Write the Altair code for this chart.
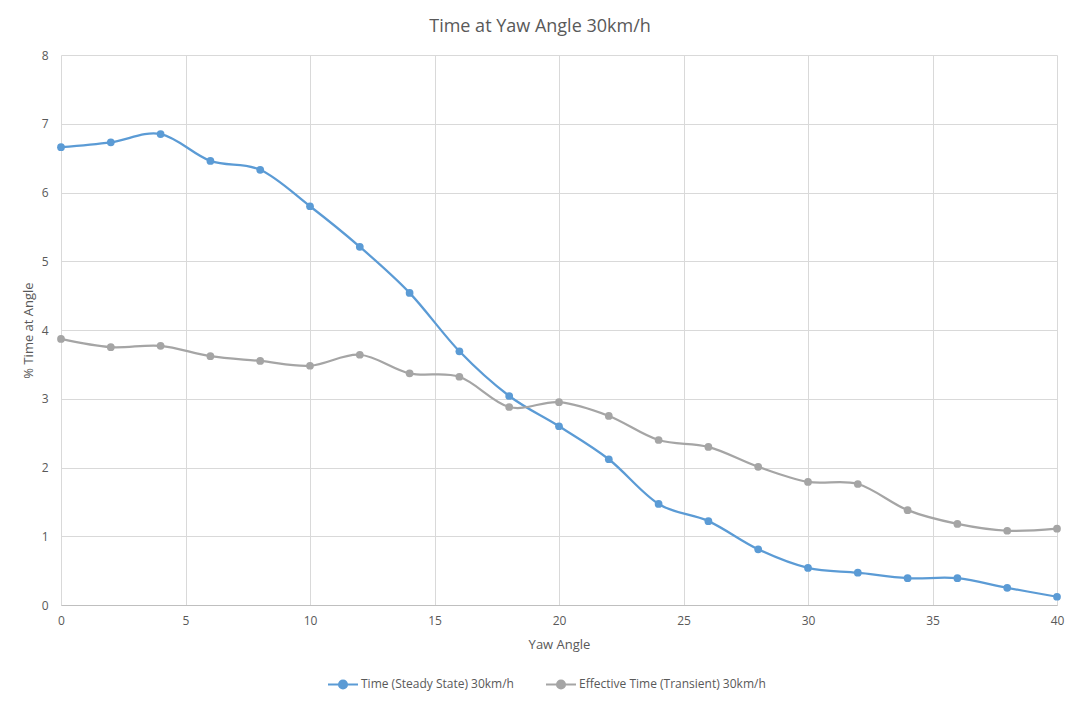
import altair as alt
import pandas as pd

yaw = [0, 2, 4, 6, 8, 10, 12, 14, 16, 18, 20, 22, 24, 26, 28, 30, 32, 34, 36, 38, 40]
steady = [6.66, 6.73, 6.85, 6.46, 6.33, 5.80, 5.21, 4.54, 3.69, 3.04, 2.60, 2.12,
          1.47, 1.22, 0.81, 0.54, 0.47, 0.39, 0.39, 0.25, 0.12]
transient = [3.87, 3.75, 3.77, 3.62, 3.55, 3.48, 3.64, 3.37, 3.32, 2.88, 2.95, 2.75,
             2.40, 2.30, 2.01, 1.79, 1.76, 1.38, 1.18, 1.08, 1.11]
series_names = ["Time (Steady State) 30km/h", "Effective Time (Transient) 30km/h"]
colors = ["#5B9BD5", "#A5A5A5"]

rows = []
for name, vals in zip(series_names, [steady, transient]):
    for a, v in zip(yaw, vals):
        rows.append({"Yaw Angle": a, "value": v, "series": name})
df = pd.DataFrame(rows)

FONT = "Open Sans"
TXT = "#595959"

color = alt.Color(
    "series:N",
    scale=alt.Scale(domain=series_names, range=colors),
    legend=alt.Legend(
        title=None,
        orient="none",
        legendX=266,
        legendY=613,
        direction="horizontal",
        symbolType="M-1,0L1,0M-0.27,0A0.27,0.27,0,1,1,0.27,0A0.27,0.27,0,1,1,-0.27,0Z",
        symbolSize=900,
        symbolStrokeWidth=2,
        labelFont=FONT,
        labelFontSize=12,
        labelColor=TXT,
        labelOffset=2,
        labelLimit=400,
        columnPadding=28,
    ),
    sort=series_names,
)

x = alt.X(
    "Yaw Angle:Q",
    scale=alt.Scale(domain=[0, 40], nice=False),
    axis=alt.Axis(values=list(range(0, 41, 5)), title="Yaw Angle", tickSize=0,
                  labelPadding=10, titlePadding=12, labelFlush=False),
)
y = alt.Y(
    "value:Q",
    scale=alt.Scale(domain=[0, 8], nice=False),
    axis=alt.Axis(values=list(range(0, 9)), title="% Time at Angle", tickSize=0,
                  labelPadding=13, titlePadding=6, labelFlush=False),
)

base = alt.Chart(df).encode(x=x, y=y, color=color)
lines = base.mark_line(interpolate="cardinal", strokeWidth=2.25)
points = base.mark_point(filled=True, size=60, opacity=1, shape="circle")

chart = (
    alt.layer(lines, points)
    .properties(
        width=996,
        height=550,
        title=alt.TitleParams("Time at Yaw Angle 30km/h", fontSize=18, font=FONT,
                              color=TXT, fontWeight="normal", offset=13, dx=-19),
        autosize=alt.AutoSizeParams(type="none"),
        padding={"left": 53, "top": 47, "right": 15, "bottom": 90},
    )
    .configure_view(stroke=None)
    .configure_axis(
        gridColor="#D9D9D9",
        domainColor="#BFBFBF",
        labelFont=FONT,
        labelFontSize=12,
        labelColor=TXT,
        titleFont=FONT,
        titleFontSize=13,
        titleColor=TXT,
        titleFontWeight="normal",
    )
    .configure_axisY(domain=False)
)

chart.save("out.html", embed_options={"renderer": "svg", "actions": False})
